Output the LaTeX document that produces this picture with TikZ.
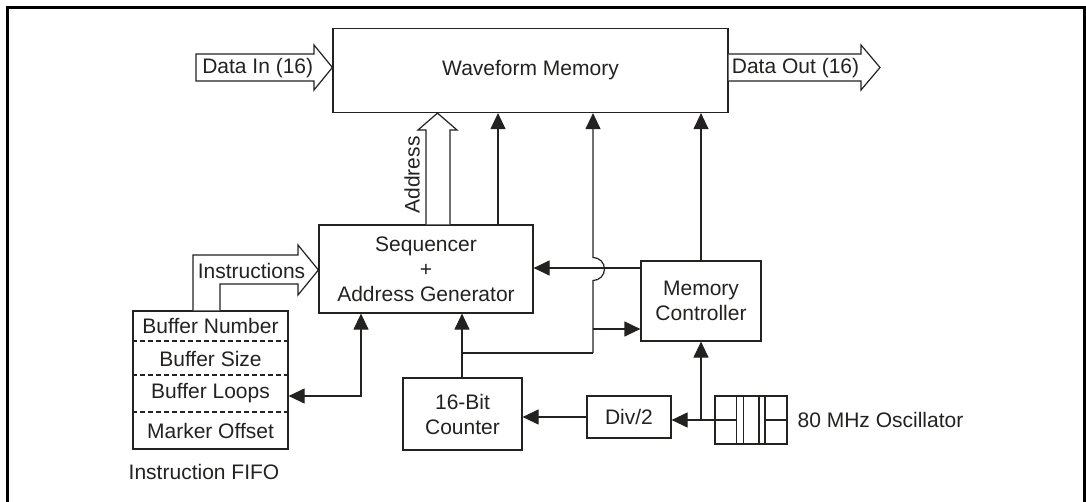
\documentclass[tikz,border=0pt]{standalone}
\usepackage{fontspec}
\setmainfont{Liberation Sans}
\usetikzlibrary{arrows.meta}
\definecolor{ink}{rgb}{0.14,0.13,0.13}
\begin{document}
\begin{tikzpicture}[x=1pt,y=-1pt,
  line width=1.2pt, draw=ink, text=ink,
  every node/.style={font=\fontsize{21}{25}\selectfont, inner sep=0pt},
  blk/.style={draw, rectangle, align=center},
  arr/.style={-{Triangle[length=16pt,width=15pt]}},
  darr/.style={{Triangle[length=16pt,width=15pt]}-{Triangle[length=16pt,width=15pt]}},
  hollow/.style={draw, fill=white, line width=1.2pt}]
\useasboundingbox (0,0) rectangle (1086,502);
% outer frame
\draw[line width=3pt, draw=black] (7.5,503) -- (7.5,7.5) -- (1084.5,7.5) -- (1084.5,503);

% blocks
\node[blk, minimum width=395pt, minimum height=84pt] (wm) at (530.5,70.5) {Waveform Memory};
\node[blk, minimum width=214pt, minimum height=88pt] (seq) at (426,269) {Sequencer\\+\\Address Generator};
\node[blk, minimum width=155pt, minimum height=138pt] (fifo) at (210.5,380) {};
\node[blk, minimum width=119pt, minimum height=72pt] (cnt) at (462.5,414) {16-Bit\\Counter};
\node[blk, minimum width=120pt, minimum height=80pt] (mc) at (701,301) {Memory\\Controller};
\node[blk, minimum width=84pt, minimum height=42pt] (div) at (629,417) {Div/2};
\node[blk, minimum width=72pt, minimum height=48pt] (osc) at (751,420) {};

% FIFO rows
\draw[dashed, dash pattern=on 5pt off 3pt] (fifo.west |- 0,341) -- (fifo.east |- 0,341);
\draw[dashed, dash pattern=on 5pt off 3pt] (fifo.west |- 0,375) -- (fifo.east |- 0,375);
\draw[dashed, dash pattern=on 5pt off 3pt] (fifo.west |- 0,412) -- (fifo.east |- 0,412);
\node (r1) at (210.5,326) {Buffer Number};
\node (r2) at (210.5,358.5) {Buffer Size};
\node (r3) at (210.5,393.5) {Buffer Loops};
\node (r4) at (210.5,430.5) {Marker Offset};
\node (fifolbl) at (204,472) {Instruction FIFO};

% oscillator symbol
\draw (736.7,396) -- (736.7,444);
\draw (743.3,396) -- (743.3,444);
\draw (759,396) -- (759,444);
\draw (765,396) -- (765,444);
\draw (osc.west) -- (736.7,420);
\draw (765,420) -- (osc.east);
\node[anchor=west] (osclbl) at (797,420) {80 MHz Oscillator};

% hollow bus arrows
\draw[hollow] (196,54) -- (314,54) -- (314,45) -- (wm.west |- 0,67.5) -- (314,90) -- (314,81) -- (196,81) -- cycle;
\node (din) at (257.7,68) {Data In (16)};
\draw[hollow] (wm.east |- 0,54) -- (861,54) -- (861,45) -- (880,67.5) -- (861,90) -- (861,81) -- (wm.east |- 0,81);
\node (dout) at (795.5,68) {Data Out (16)};
\draw[hollow] (seq.north -| 426,0) -- (426,130) -- (418,130) -- (wm.south -| 437.5,0) -- (457,130) -- (450,130) -- (seq.north -| 450,0);
\node[rotate=90] (addr) at (412,175) {Address};
\draw[hollow] (fifo.north -| 193,0) -- (193,255) -- (298,255) -- (298,245) -- (seq.west |- 0,270) -- (298,295) -- (298,284) -- (220,284) -- (fifo.north -| 220,0);
\node (instr) at (251.5,270.5) {Instructions};

% connectors
\coordinate (j1) at (462,353);
\coordinate (j2) at (593,353);
\coordinate (j3) at (593,329);
\coordinate (j4) at (701,420);
\coordinate (j5) at (361,396);
\draw[arr] (seq.north -| 498,0) -- (wm.south -| 498,0);
\draw[arr] (mc.north) -- (wm.south -| mc.north);
\draw[arr] (j2) -- (593,280.5) arc[start angle=90, end angle=-90, radius=11.5] -- (wm.south -| j2);
\draw[arr] (mc.west |- 0,268) -- (seq.east |- 0,268);
\draw[arr] (j3) -- (mc.west |- j3);
\draw[arr] (cnt.north -| j1) -- (seq.south -| j1);
\draw (j1) -- (j2);
\draw[darr] (fifo.east |- j5) -- (j5) -- (seq.south -| j5);
\draw[arr] (osc.west) -- (div.east |- osc.west);
\draw[arr] (j4) -- (mc.south);
\draw[arr] (div.west) -- (cnt.east |- div.west);
\end{tikzpicture}
\end{document}
